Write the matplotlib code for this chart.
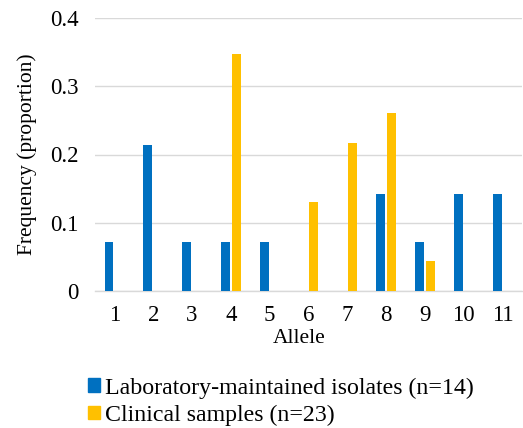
import numpy as np
import matplotlib
matplotlib.use("Agg")
import matplotlib.pyplot as plt
from matplotlib.patches import Patch

alleles = ["1", "2", "3", "4", "5", "6", "7", "8", "9", "10", "11"]
lab_freq = [1/14, 3/14, 1/14, 1/14, 1/14, 0, 0, 2/14, 1/14, 2/14, 2/14]
clin_freq = [0, 0, 0, 8/23, 0, 3/23, 5/23, 6/23, 1/23, 0, 0]
lab_label = "Laboratory-maintained isolates (n=14)"
clin_label = "Clinical samples (n=23)"

plt.rcParams["font.family"] = ["Liberation Serif", "DejaVu Serif"]

fig = plt.figure(figsize=(5.23, 4.28), dpi=100)
ax = fig.add_axes([95/523, 1 - 291/428, 427/523, 273/428])

x = np.arange(len(alleles))
w = 0.23
gap = 0.05
ax.bar(x - w/2 - gap/2, lab_freq, width=w, color="#0070C0", zorder=3)
ax.bar(x + w/2 + gap/2, clin_freq, width=w, color="#FFC000", zorder=3)

ax.set_xlim(-0.5, len(alleles) - 0.5)
ax.set_ylim(0, 0.4)
ax.set_yticks([0, 0.1, 0.2, 0.3, 0.4])
ax.set_yticklabels(["0", "0.1", "0.2", "0.3", "0.4"])
ax.set_xticks(x)
ax.set_xticklabels(alleles)
ax.tick_params(length=0, labelsize=16.5)
ax.tick_params(axis="y", pad=12)
ax.tick_params(axis="x", pad=10)
ax.yaxis.grid(True, color="#d9d9d9", linewidth=1)
ax.set_axisbelow(True)
for s in ["top", "right", "left"]:
    ax.spines[s].set_visible(False)
ax.spines["bottom"].set_color("#d9d9d9")
ax.spines["bottom"].set_linewidth(1)

ax.set_xlabel("Allele", fontsize=15.5)
ax.xaxis.set_label_coords(0.478, -0.14)
ax.set_ylabel("Frequency (proportion)", fontsize=15.5, labelpad=9)

handles = [Patch(color="#0070C0", label=lab_label),
           Patch(color="#FFC000", label=clin_label)]
fig.legend(handles=handles, loc="upper left", bbox_to_anchor=(78/523, 1 - 368/428),
           frameon=False, fontsize=17.2, handlelength=0.5, handleheight=0.5,
           handletextpad=0.25, labelspacing=0.25, borderaxespad=0)

fig.savefig("out.png", dpi=100)
